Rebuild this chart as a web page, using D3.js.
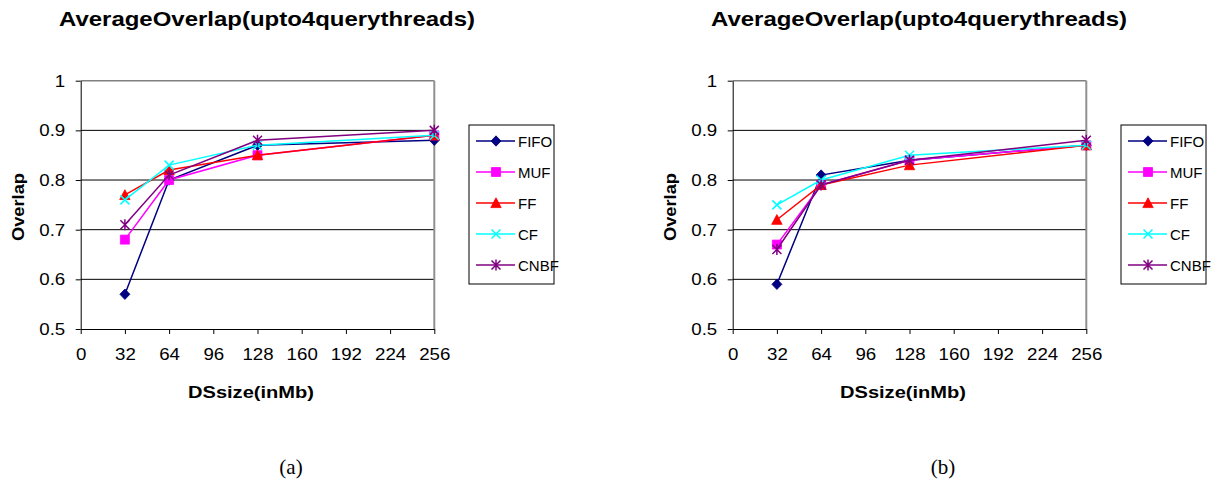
<!DOCTYPE html>
<html>
<head>
<meta charset="utf-8">
<script src="https://cdn.jsdelivr.net/npm/d3@7"></script>
<style>
  html, body { margin: 0; padding: 0; background: #fff; }
  svg { display: block; }
  text { font-family: "Liberation Sans", Arial, sans-serif; fill: #000; }
</style>
</head>
<body>
<svg id="chart" width="1232" height="479"></svg>
<script>
// ---- data ----
const dsSizes = [32, 64, 128, 256];
const xTickValues = [0, 32, 64, 96, 128, 160, 192, 224, 256];
const yTickValues = [0.5, 0.6, 0.7, 0.8, 0.9, 1];
const seriesNames = ["FIFO", "MUF", "FF", "CF", "CNBF"];
const seriesColors = ["#000080", "#FF00FF", "#FF0000", "#00FFFF", "#800080"];
const chartTitle = "AverageOverlap(upto4querythreads)";
const xAxisTitle = "DSsize(inMb)";
const yAxisTitle = "Overlap";
const panelLabels = ["(a)", "(b)"];

// chart (a)
const a_FIFO = [0.57, 0.80, 0.87, 0.88];
const a_MUF  = [0.68, 0.80, 0.85, 0.89];
const a_FF   = [0.77, 0.82, 0.85, 0.89];
const a_CF   = [0.76, 0.83, 0.87, 0.89];
const a_CNBF = [0.71, 0.81, 0.88, 0.90];
// chart (b)
const b_FIFO = [0.59, 0.81, 0.84, 0.87];
const b_MUF  = [0.67, 0.79, 0.84, 0.87];
const b_FF   = [0.72, 0.79, 0.83, 0.87];
const b_CF   = [0.75, 0.80, 0.85, 0.87];
const b_CNBF = [0.66, 0.79, 0.84, 0.88];

const panels = [
  { dx: 0,   series: [a_FIFO, a_MUF, a_FF, a_CF, a_CNBF], label: panelLabels[0] },
  { dx: 652, series: [b_FIFO, b_MUF, b_FF, b_CF, b_CNBF], label: panelLabels[1] }
];

// ---- markers ----
function markerPath(i) {
  const p = d3.path();
  if (i === 0) { // diamond
    p.moveTo(0, -5.2); p.lineTo(5, 0); p.lineTo(0, 5.2); p.lineTo(-5, 0); p.closePath();
  } else if (i === 1) { // square
    p.rect(-4.5, -4.5, 9, 9);
  } else if (i === 2) { // triangle
    p.moveTo(0, -5.2); p.lineTo(5.2, 4.6); p.lineTo(-5.2, 4.6); p.closePath();
  } else if (i === 3) { // x
    p.moveTo(-4.5, -4.5); p.lineTo(4.5, 4.5); p.moveTo(4.5, -4.5); p.lineTo(-4.5, 4.5);
  } else { // asterisk
    p.moveTo(-4.5, -4.5); p.lineTo(4.5, 4.5); p.moveTo(4.5, -4.5); p.lineTo(-4.5, 4.5);
    p.moveTo(0, -5.5); p.lineTo(0, 5.5);
  }
  return p.toString();
}
function drawMarker(sel, i, color) {
  const filled = i <= 2;
  sel.append("path")
    .attr("d", markerPath(i))
    .attr("fill", filled ? color : "none")
    .attr("stroke", color)
    .attr("stroke-width", filled ? 0.8 : 1.5);
}

const svg = d3.select("#chart");
const SX = 1.1; // horizontal stretch of the original figure text

panels.forEach(panel => {
  const g = svg.append("g").attr("transform", `translate(${panel.dx},0)`);
  const left = 80.7, right = 434.3, top = 80.7, bottom = 329;
  const x = d3.scaleLinear().domain([0, 256]).range([left, right]);
  const y = d3.scaleLinear().domain([0.5, 1]).range([bottom, top]);

  // title
  g.append("text")
    .attr("x", 59).attr("y", 26)
    .attr("font-size", 21).attr("font-weight", "bold")
    .attr("textLength", 416).attr("lengthAdjust", "spacingAndGlyphs")
    .text(chartTitle);

  // gridlines
  g.append("g").selectAll("line")
    .data(yTickValues.filter(v => v > 0.5 && v < 1))
    .join("line")
    .attr("x1", left).attr("x2", right)
    .attr("y1", d => y(d)).attr("y2", d => y(d))
    .attr("stroke", "#000").attr("stroke-width", 1);

  // plot border (top & right gray)
  g.append("line").attr("x1", left).attr("x2", right).attr("y1", y(1)).attr("y2", y(1))
    .attr("stroke", "#808080").attr("stroke-width", 1.5);
  g.append("line").attr("x1", x(256)).attr("x2", x(256)).attr("y1", top).attr("y2", bottom)
    .attr("stroke", "#909090").attr("stroke-width", 2);

  // y axis
  const yAxis = g.append("g").attr("transform", `translate(${left},0)`)
    .call(d3.axisLeft(y).tickValues(yTickValues).tickSize(5).tickSizeOuter(0).tickPadding(0)
      .tickFormat(d => d === 1 ? "1" : d3.format(".1f")(d)));
  yAxis.select(".domain").attr("stroke", "#000");
  yAxis.selectAll(".tick line").attr("stroke", "#000");
  yAxis.selectAll(".tick text")
    .attr("font-family", "Liberation Sans, Arial, sans-serif")
    .attr("font-size", 17).attr("fill", "#000")
    .attr("x", -15.5 / SX)
    .attr("transform", `scale(${SX},1)`);

  // x axis
  const xAxis = g.append("g").attr("transform", `translate(0,${bottom})`)
    .call(d3.axisBottom(x).tickValues(xTickValues).tickSize(5).tickSizeOuter(0).tickPadding(14));
  xAxis.select(".domain").attr("stroke", "#000");
  xAxis.selectAll(".tick line").attr("stroke", "#000");
  xAxis.selectAll(".tick text")
    .attr("font-family", "Liberation Sans, Arial, sans-serif")
    .attr("font-size", 17).attr("fill", "#000")
    .attr("transform", `scale(${SX},1)`);

  // axis titles
  g.append("text")
    .attr("x", 251).attr("y", 398)
    .attr("text-anchor", "middle")
    .attr("font-size", 17).attr("font-weight", "bold")
    .attr("textLength", 126).attr("lengthAdjust", "spacingAndGlyphs")
    .text(xAxisTitle);
  g.append("text")
    .attr("transform", "translate(24,207) rotate(-90)")
    .attr("text-anchor", "middle")
    .attr("font-size", 17).attr("font-weight", "bold")
    .attr("textLength", 68).attr("lengthAdjust", "spacingAndGlyphs")
    .text(yAxisTitle);

  // series
  const line = d3.line().x((d, i) => x(dsSizes[i])).y(d => y(d));
  panel.series.forEach((vals, si) => {
    const col = seriesColors[si];
    g.append("path").datum(vals)
      .attr("d", line)
      .attr("fill", "none")
      .attr("stroke", col)
      .attr("stroke-width", 1.5);
    g.append("g").selectAll("g")
      .data(vals)
      .join("g")
      .attr("transform", (d, i) => `translate(${x(dsSizes[i])},${y(d)})`)
      .each(function () { drawMarker(d3.select(this), si, col); });
  });

  // legend
  const lg = g.append("g");
  const lgLeft = 469, lgTop = 125, lgRight = 554, lgBottom = 284;
  lg.append("rect")
    .attr("x", lgLeft).attr("y", lgTop)
    .attr("width", lgRight - lgLeft).attr("height", lgBottom - lgTop)
    .attr("fill", "#fff").attr("stroke", "#000").attr("stroke-width", 1);
  seriesNames.forEach((name, si) => {
    const cy = 141 + si * 31;
    const col = seriesColors[si];
    lg.append("line").attr("x1", 476).attr("x2", 515).attr("y1", cy).attr("y2", cy)
      .attr("stroke", col).attr("stroke-width", 1.5);
    drawMarker(lg.append("g").attr("transform", `translate(496,${cy})`), si, col);
    lg.append("text")
      .attr("transform", `translate(518,${cy + 5.5})`)
      .attr("font-size", 15)
      .text(name);
  });

  // panel label
  g.append("text")
    .attr("x", 291).attr("y", 474)
    .attr("text-anchor", "middle")
    .style("font-family", "'Liberation Serif', 'Times New Roman', serif")
    .attr("font-size", 21)
    .text(panel.label);
});
</script>
</body>
</html>
